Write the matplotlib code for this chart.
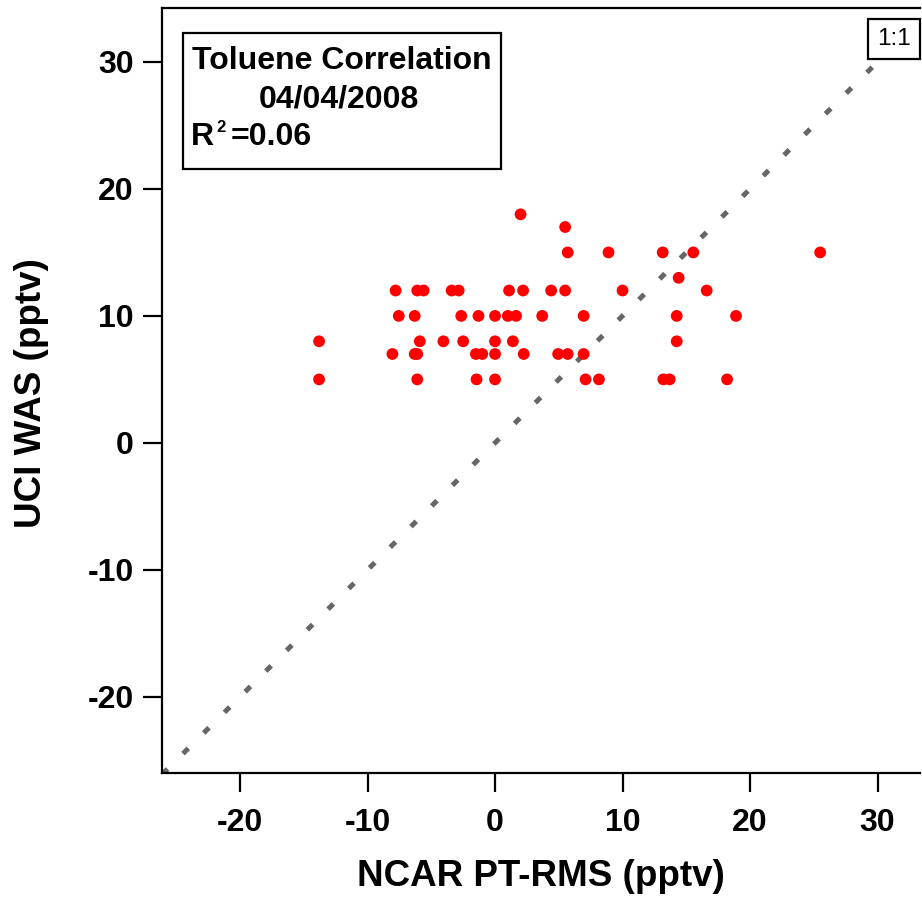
import matplotlib.pyplot as plt
from matplotlib.patches import Rectangle

plt.rcParams['font.family'] = ['Liberation Sans', 'DejaVu Sans']
plt.rcParams['axes.unicode_minus'] = False

# NCAR PT-RMS (x) vs UCI WAS (y), pptv
ncar = [2.0, 5.5, 5.7, 8.9, 13.15, 15.55, 25.5,
        14.4,
        -7.8, -6.1, -5.6, -3.4, -2.85, 1.1, 2.2, 4.4, 5.5, 10.0, 16.6,
        -7.55, -6.3, -2.65, -1.3, 0.0, 1.0, 1.65, 3.7, 6.95, 14.25, 18.9,
        -13.8, -5.9, -4.05, -2.5, 0.0, 1.4, 14.25,
        -8.05, -6.3, -6.1, -1.5, -1.0, 0.0, 2.25, 4.95, 5.7, 6.95,
        -13.8, -6.1, -1.45, 0.0, 7.1, 8.15, 13.2, 13.7, 18.2]
uci = [18, 17, 15, 15, 15, 15, 15,
       13,
       12, 12, 12, 12, 12, 12, 12, 12, 12, 12, 12,
       10, 10, 10, 10, 10, 10, 10, 10, 10, 10, 10,
       8, 8, 8, 8, 8, 8, 8,
       7, 7, 7, 7, 7, 7, 7, 7, 7, 7,
       5, 5, 5, 5, 5, 5, 5, 5, 5]

one_to_one = [-26.1, 29.8]
r_squared = 0.06

fig = plt.figure(figsize=(9.22, 9.01), dpi=100)
ax = fig.add_axes([162 / 922, 1 - 773 / 901, 758 / 922, 765 / 901])

ax.plot(one_to_one, one_to_one, color='#666666', lw=3.6,
        linestyle=(0, (1.5, 4.35)), dash_capstyle='butt', zorder=2)
ax.scatter(ncar, uci, s=72, color='#ff0000', edgecolors='none', zorder=3)

ax.set_xlim(-26.12, 33.33)
ax.set_ylim(-26.0, 34.25)
ax.set_xticks([-20, -10, 0, 10, 20, 30])
ax.set_yticks([-20, -10, 0, 10, 20, 30])

ax.spines['right'].set_visible(False)
for s in ['left', 'bottom', 'top']:
    ax.spines[s].set_linewidth(1.6)
ax.tick_params(direction='out', length=13.5, width=1.6, labelsize=23)
ax.tick_params(axis='x', pad=12)
ax.tick_params(axis='y', pad=7)
for lab in ax.get_xticklabels() + ax.get_yticklabels():
    lab.set_fontweight('bold')

ax.set_xlabel('NCAR PT-RMS (pptv)', fontsize=26.5, fontweight='bold', va='center')
ax.xaxis.set_label_coords(0.5, (773 - 876) / 765)
ax.set_ylabel('UCI WAS (pptv)', fontsize=26.5, fontweight='bold', va='center')
ax.yaxis.set_label_coords((32 - 162) / 758, 0.497)

# annotation box
fig.patches.append(Rectangle((183 / 922, 1 - 169 / 901), 318 / 922, 136 / 901,
                             transform=fig.transFigure, fill=False,
                             edgecolor='black', linewidth=1.6))
fig.text(342 / 922, 1 - 69 / 901, 'Toluene Correlation', fontsize=23,
         fontweight='bold', ha='center', va='baseline')
fig.text(339 / 922, 1 - 107 / 901, '04/04/2008', fontsize=23,
         fontweight='bold', ha='center', va='baseline')
fig.text(191 / 922, 1 - 145 / 901, 'R', fontsize=23, fontweight='bold',
         ha='left', va='baseline')
fig.text(216 / 922, 1 - 132 / 901, '2', fontsize=12, fontweight='bold',
         ha='left', va='baseline')
fig.text(231 / 922, 1 - 145 / 901, '=%.2f' % r_squared, fontsize=23,
         fontweight='bold', ha='left', va='baseline')

# 1:1 tag
fig.text(894 / 922, 1 - 39 / 901, '1:1', fontsize=17.5, ha='center', va='center',
         bbox=dict(boxstyle='square,pad=0.38', facecolor='white',
                   edgecolor='black', linewidth=1.6))

fig.savefig('out.png', dpi=100)
